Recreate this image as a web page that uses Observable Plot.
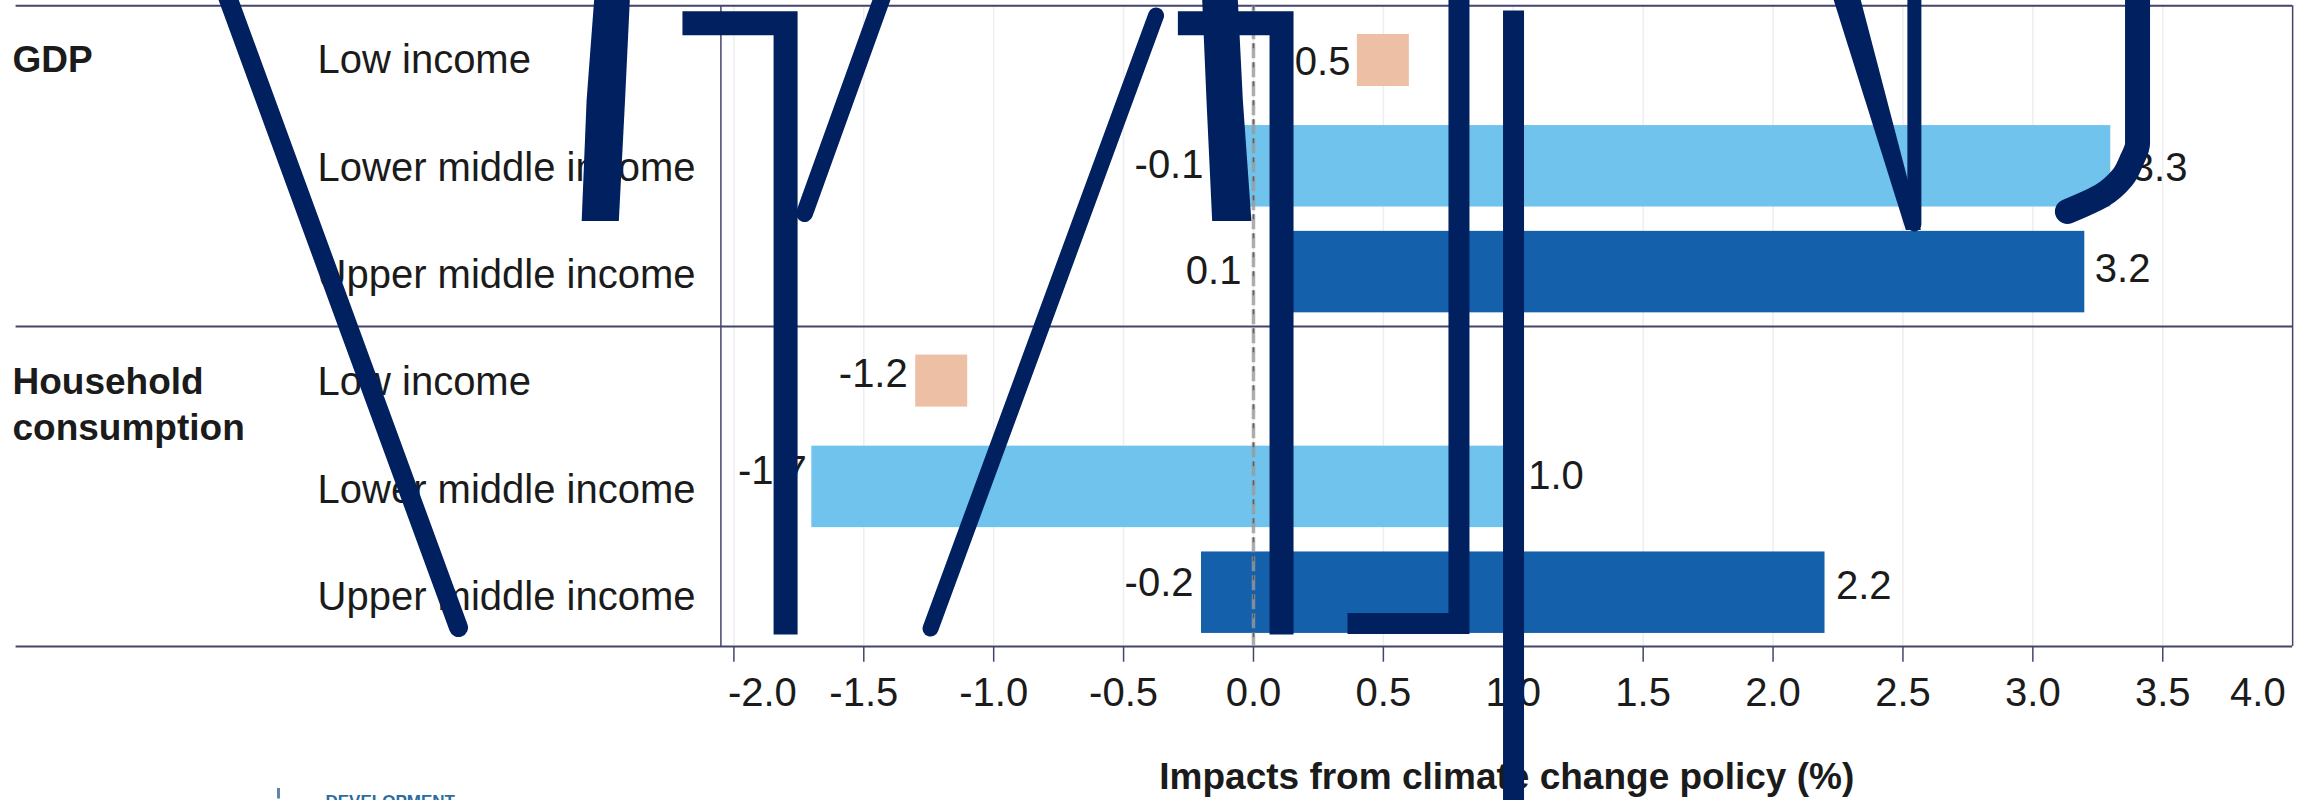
<!DOCTYPE html>
<html>
<head>
<meta charset="utf-8">
<script src="https://cdn.jsdelivr.net/npm/d3@7"></script>
<script src="https://cdn.jsdelivr.net/npm/@observablehq/plot@0.6"></script>
<style>
  html, body { margin: 0; padding: 0; background: #fff; overflow: hidden; }
  svg { display: block; }
</style>
</head>
<body>
<div id="chart"></div>
<script>
// Impact ranges by income group, in percent.
const groups = ["GDP", "Household\nconsumption"];
const incomeGroups = ["Low income", "Lower middle income", "Upper middle income",
                      "Low income", "Lower middle income", "Upper middle income"];
const rows = [0, 1, 2, 3.03, 4.03, 5.03];
const lowValues = [0.5, -0.1, 0.1, -1.2, -1.7, -0.2];
const highValues = [null, 3.3, 3.2, null, 1.0, 2.2];
const tickValues = [-1.5, -1, -0.5, 0, 0.5, 1, 1.5, 2, 2.5, 3, 3.5];
const gridValues = [-2, ...tickValues];
const axisLabel = "Impacts from climate change policy (%)";

const colors = { low: "#edbfa5", lower: "#70c3ec", upper: "#1560aa", ink: "#1b1b1b", rule: "#45456b", pen: "#002060" };
const barColors = [colors.low, colors.lower, colors.upper, colors.low, colors.lower, colors.upper];

// Hand-drawn pen strokes across the chart, in axis units (percent, row).
const penA = [[-3.949, -0.6], [-3.06, 5.359]];
const penC = [[-2.198, -0.353], [-1.801, -0.353], [-1.801, 5.425]];
const penD = [[-1.428, -0.6], [-1.728, 1.446]];
const penE = [[-0.375, -0.425], [-1.243, 5.369]];
const penF = [[-0.291, -0.353], [0.108, -0.353], [0.108, 5.425]];
const penH = [[0.791, -0.6], [0.791, 5.321], [0.362, 5.321]];
const penI = [[1.001, -0.472], [1.001, 7.02]];
const penJ = [[2.544, -0.6], [2.544, 1.55]];
const penK = [[3.403, -0.6], [3.403, 0.784], [3.38, 0.945], [3.345, 1.106], [3.266, 1.276], [3.133, 1.427]];
// Strokes that change width along their length: left and right edge per row.
const wedgeA = [{ x1: -2.535, x2: -2.398, r: -0.6 }, { x1: -2.565, x2: -2.417, r: 0.378 }, { x1: -2.584, x2: -2.441, r: 1.522 }];
const wedgeB = [{ x1: -0.196, x2: -0.059, r: -0.6 }, { x1: -0.179, x2: -0.039, r: 0.378 }, { x1: -0.157, x2: -0.006, r: 1.522 }];
const wedgeC = [{ x1: 2.231, x2: 2.336, r: -0.6 }, { x1: 2.513, x2: 2.571, r: 1.607 }];

const data = rows.map((r, i) => ({ r, income: incomeGroups[i], low: lowValues[i], high: highValues[i], color: barColors[i] }));
const ranges = data.filter((d) => d.high !== null);
const points = data.filter((d) => d.high === null);

const font = "'Liberation Sans', Arial, sans-serif";
const sizeLabel = 40, sizeNumber = 40, sizeBold = 37;
const left = -4.823, right = 4.088;
const barHalf = 0.385, squareHalf = 0.246, squareW = 0.1;

const pen = (pts, strokeWidth, strokeLinecap = "butt", curve = "linear") =>
  Plot.line(pts, { x: (d) => d[0], y: (d) => d[1], stroke: colors.pen, strokeWidth, strokeLinecap, strokeLinejoin: "miter", strokeMiterlimit: 4, curve });
const wedge = (pts) => Plot.areaX(pts, { x1: "x1", x2: "x2", y: "r", fill: colors.pen });

const lowDx = [-7, -24, -38, -8, -5, -8];
const lowDy = [2, -1, -1, -7, -16, -10];
const highDx = [0, 21, 10, 0, 15, 11];
const highDy = [0, 2, -3, 0, -11, -7];
const incomeDy = [0, 2, 3, 1, 3, 4];

const chart = Plot.plot({
  width: 2315,
  height: 800,
  margin: 0,
  style: { background: "#fff", fontFamily: font },
  x: { domain: [left, right], range: [0, 2315], axis: null },
  y: { domain: [-0.567, 6.994], range: [0, 800], axis: null },
  marks: [
    // Light gridlines and tick marks
    Plot.ruleX(gridValues, { y1: -0.52, y2: 5.54, stroke: "#eeeef0", strokeWidth: 1.5 }),
    Plot.ruleX(gridValues, { y1: 5.54, y2: 5.687, stroke: colors.rule, strokeWidth: 1.5 }),

    // Panel frame and group separators
    Plot.ruleY([-0.517, 2.514, 5.539], { x1: -4.763, x2: 4, stroke: colors.rule, strokeWidth: 2 }),
    Plot.ruleX([-2.05, 4], { y1: -0.517, y2: 5.539, stroke: colors.rule, strokeWidth: 1.5 }),

    // Ranges and single estimates
    Plot.rect(ranges, { x1: "low", x2: "high", y1: (d) => d.r - barHalf, y2: (d) => d.r + barHalf, fill: "color" }),
    Plot.rect(points, { x1: (d) => d.low - squareW, x2: (d) => d.low + squareW, y1: (d) => d.r - squareHalf, y2: (d) => d.r + squareHalf, fill: "color" }),

    // Zero reference line
    Plot.ruleX([0], { y1: -0.517, y2: 5.539, stroke: "#9a9a9a", strokeWidth: 3.5, strokeOpacity: 0.8, strokeDasharray: "15 4" }),
    Plot.ruleX([0], { y1: -0.517, y2: 5.539, stroke: "#333", strokeWidth: 1.5, strokeOpacity: 0.6, strokeDasharray: "5 14" }),

    // Value labels
    ...data.map((d, i) => Plot.text([d], { x: "low", y: "r", text: (e) => e.low.toFixed(1), textAnchor: "end", fontSize: sizeNumber, fill: colors.ink,
      dx: lowDx[i] - (d.high === null ? squareW * 259.8 : 0), dy: lowDy[i] })),
    ...ranges.map((d) => {
      const i = data.indexOf(d);
      return Plot.text([d], { x: "high", y: "r", text: (e) => e.high.toFixed(1), textAnchor: "start", fontSize: sizeNumber, fill: colors.ink, dx: highDx[i], dy: highDy[i] });
    }),

    // Income group and measure labels
    ...data.map((d, i) => Plot.text([d], { frameAnchor: "left", y: "r", text: "income", textAnchor: "start", dx: 317, dy: incomeDy[i], fontSize: sizeLabel, fill: colors.ink })),
    Plot.text([groups[0]], { frameAnchor: "left", y: [rows[0]], text: (d) => d, textAnchor: "start", dx: 12, fontSize: sizeBold, fontWeight: "bold", fill: colors.ink }),
    Plot.text([groups[1]], { frameAnchor: "left", y: [rows[3] + 0.2], text: (d) => d, textAnchor: "start", dx: 12, fontSize: sizeBold, fontWeight: "bold", lineHeight: 1.25, fill: colors.ink }),

    // Axis labels; the two outer ones are pulled inside the panel
    Plot.text(tickValues, { x: (d) => d, frameAnchor: "top", lineAnchor: "middle", dy: 693, text: (d) => d.toFixed(1), fontSize: sizeNumber, fill: colors.ink }),
    Plot.text([-2], { x: (d) => d, frameAnchor: "top", lineAnchor: "middle", dy: 693, dx: -6, text: (d) => d.toFixed(1), textAnchor: "start", fontSize: sizeNumber, fill: colors.ink }),
    Plot.text([4], { x: (d) => d, frameAnchor: "top", lineAnchor: "middle", dy: 693, dx: -7, text: (d) => d.toFixed(1), textAnchor: "end", fontSize: sizeNumber, fill: colors.ink }),
    Plot.text([axisLabel], { x: [0.975], frameAnchor: "top", lineAnchor: "middle", dy: 777, text: (d) => d, fontSize: sizeBold, fontWeight: "bold", fill: colors.ink }),

    // Publisher mark cut off by the page edge
    Plot.ruleX([-3.753], { y1: 6.88, y2: 6.98, stroke: "#5f86ad", strokeWidth: 3 }),
    Plot.text(["DEVELOPMENT"], { frameAnchor: "top-left", lineAnchor: "middle", dx: 325, dy: 801, text: (d) => d, textAnchor: "start", fontSize: 17, fontWeight: "bold", fill: "#2b6ca3" }),

    // Pen strokes lie over everything else
    pen(penA, 19, "round"),
    wedge(wedgeA),
    pen(penC, 24),
    pen(penD, 17, "round"),
    pen(penE, 16, "round"),
    pen(penF, 24),
    wedge(wedgeB),
    pen(penH, 21),
    pen(penI, 21),
    wedge(wedgeC),
    pen(penJ, 14, "round"),
    pen(penK, 25, "round", "monotone-y")
  ]
});
document.getElementById("chart").appendChild(chart);
</script>
</body>
</html>
